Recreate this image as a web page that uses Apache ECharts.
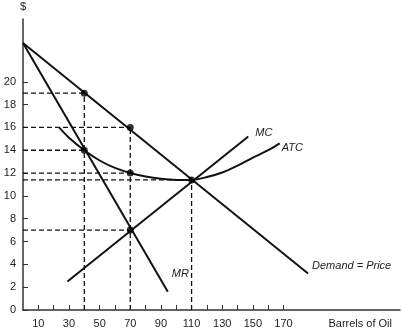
<!DOCTYPE html>
<html>
<head>
<meta charset="utf-8">
<script src="https://cdn.jsdelivr.net/npm/echarts@6/dist/echarts.min.js"></script>
<style>
  html, body { margin: 0; padding: 0; background: #fff; }
  #chart { width: 402px; height: 329px; }
</style>
</head>
<body>
<div id="chart"></div>
<script>
// Monopoly oil producer: demand, marginal revenue, marginal cost and average total cost
const demandLine = [[0, 23.4], [186, 3.2]];
const mrLine = [[0, 23.4], [94.5, 1.6]];
const mcLine = [[29, 2.5], [147, 15.2]];
const atcCurve = [[23.5, 16], [30, 15.1], [40, 14.0], [50, 13.1], [60, 12.45], [70, 12.0], [80, 11.7], [90, 11.5], [100, 11.4], [110, 11.4], [120, 11.65], [130, 12.05], [140, 12.65], [150, 13.35], [160, 14.0], [167.5, 14.6]];
const keyPoints = [[40, 19], [70, 16], [40, 14], [70, 12], [70, 7], [110, 11.4]];
const xTickValues = [10, 20, 30, 40, 50, 60, 70, 80, 90, 100, 110, 120, 130, 140, 150, 160, 170];
const xLabelValues = [10, 30, 50, 70, 90, 110, 130, 150, 170];
const yTickValues = [0, 2, 4, 6, 8, 10, 12, 14, 16, 18, 20];

const FONT = 'Liberation Sans, Arial, sans-serif';
const INK = '#111';

// Dashed guides: horizontal from the price axis to each point,
// vertical from the quantity axis up to the highest point at that quantity
const guideSeries = [];
keyPoints.forEach(function (p) {
  guideSeries.push({ data: [[0, p[1]], [p[0], p[1]]] });
});
const topAt = {};
keyPoints.forEach(function (p) {
  if (topAt[p[0]] === undefined || p[1] > topAt[p[0]]) topAt[p[0]] = p[1];
});
Object.keys(topAt).forEach(function (k) {
  guideSeries.push({ data: [[Number(k), 0], [Number(k), topAt[k]]] });
});

function curve(name, data, labelText, offset, smooth) {
  return {
    name: name,
    type: 'line',
    data: data,
    smooth: smooth || false,
    showSymbol: false,
    symbol: 'none',
    lineStyle: { color: INK, width: 2 },
    z: 3,
    endLabel: {
      show: true,
      formatter: labelText,
      offset: offset,
      distance: 4,
      fontFamily: FONT,
      fontStyle: 'italic',
      fontSize: 11,
      color: '#222'
    }
  };
}

const series = guideSeries.map(function (g) {
  return {
    type: 'line',
    data: g.data,
    showSymbol: false,
    symbol: 'none',
    lineStyle: { color: INK, width: 1.3, type: [5, 3] },
    z: 2
  };
});

series.push(curve('Demand', demandLine, 'Demand = Price', [0, -8]));
series.push(curve('MR', mrLine, 'MR', [0, -18]));
series.push(curve('MC', mcLine, 'MC', [3, -4]));
series.push(curve('ATC', atcCurve, 'ATC', [-2, 5], 0.3));
series.push({
  type: 'scatter',
  data: keyPoints,
  symbol: 'circle',
  symbolSize: 7,
  itemStyle: { color: '#000' },
  z: 4
});

const chart = echarts.init(document.getElementById('chart'), null, { renderer: 'canvas' });
chart.setOption({
  animation: false,
  backgroundColor: '#fff',
  grid: { left: 23, right: 2, top: 19, bottom: 19, containLabel: false, outerBoundsMode: 'none' },
  xAxis: {
    type: 'value',
    min: 0,
    max: 246,
    name: 'Barrels of Oil',
    nameLocation: 'end',
    nameGap: -8,
    nameTextStyle: {
      fontFamily: FONT, fontSize: 11, color: '#222',
      align: 'right', verticalAlign: 'top', padding: [8, 0, 0, 0]
    },
    axisLine: { show: true, lineStyle: { color: '#333', width: 1.5 } },
    axisTick: { show: true, inside: true, length: 5, customValues: xTickValues, lineStyle: { color: '#333', width: 1 } },
    axisLabel: { customValues: xLabelValues, margin: 8, fontFamily: FONT, fontSize: 11, color: '#222' },
    splitLine: { show: false }
  },
  yAxis: {
    type: 'value',
    min: 0,
    max: 25.5,
    name: '$',
    nameLocation: 'end',
    nameGap: 7,
    nameTextStyle: { fontFamily: FONT, fontSize: 11, color: '#222', align: 'center' },
    axisLine: { show: true, lineStyle: { color: '#333', width: 1.5 } },
    axisTick: { show: true, inside: true, length: 5, customValues: yTickValues, lineStyle: { color: '#333', width: 1 } },
    axisLabel: { customValues: yTickValues, margin: 7, fontFamily: FONT, fontSize: 11, color: '#222' },
    splitLine: { show: false }
  },
  series: series
});
</script>
</body>
</html>
